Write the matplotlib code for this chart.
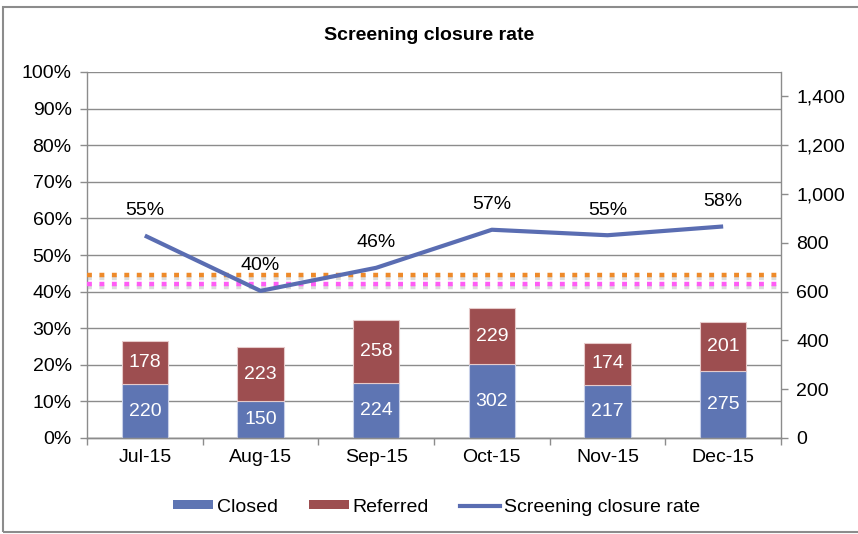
import matplotlib
matplotlib.use("Agg")
import matplotlib.pyplot as plt
import matplotlib.patheffects as pe
from matplotlib.lines import Line2D
from matplotlib.patches import Patch, Rectangle
from matplotlib.ticker import FuncFormatter, MultipleLocator, FixedLocator

plt.rcParams["font.family"] = ["Liberation Sans", "DejaVu Sans"]

months = ["Jul-15", "Aug-15", "Sep-15", "Oct-15", "Nov-15", "Dec-15"]
closed = [220, 150, 224, 302, 217, 275]
referred = [178, 223, 258, 229, 174, 201]
closure_rate = [0.553, 0.402, 0.465, 0.569, 0.554, 0.578]
target_orange = 0.445
target_pink = 0.42

c_closed = "#5E75B3"
c_referred = "#9D4E50"
c_line = "#5A6DB2"
c_grid = "#8C8C8C"

fig = plt.figure(figsize=(8.58, 5.34), dpi=100)
rect = [87 / 858, 1 - 438 / 534, (781 - 87) / 858, (438 - 72) / 534]
ax = fig.add_axes(rect)
ax2 = ax.twinx()

# Left axis: percentages, gridlines every 10%
ax.set_ylim(0, 1.0)
ax.set_xlim(-0.5, len(months) - 0.5)
ax.yaxis.set_major_locator(MultipleLocator(0.1))
ax.yaxis.set_major_formatter(FuncFormatter(lambda v, p: f"{v * 100:.0f}%"))
ax.grid(axis="y", color=c_grid, linewidth=1.0)
ax.set_axisbelow(True)

# Right axis: counts for the stacked bars
ax2.set_ylim(0, 1500)
ax2.yaxis.set_major_locator(FixedLocator(range(0, 1401, 200)))
ax2.yaxis.set_major_formatter(FuncFormatter(lambda v, p: f"{int(v):,}"))

for a in (ax, ax2):
    for s in a.spines.values():
        s.set_color(c_grid)
        s.set_linewidth(1.0)
    a.spines["top"].set_visible(False)
    a.tick_params(axis="y", length=5, width=1, color=c_grid, labelsize=14, pad=6)

ax.spines["right"].set_visible(False)
ax2.spines["left"].set_visible(False)

# Category ticks sit between the months
ax.set_xticks(range(len(months)))
ax.set_xticklabels(months)
ax.tick_params(axis="x", length=0, labelsize=14, pad=8)
ax.set_xticks([i - 0.5 for i in range(len(months) + 1)], minor=True)
ax.tick_params(axis="x", which="minor", length=5, width=1, color=c_grid)

x = list(range(len(months)))
w = 0.4
ax2.bar(x, closed, width=w, color=c_closed, edgecolor="#C8D0E8", linewidth=0.8, zorder=2)
ax2.bar(x, referred, width=w, bottom=closed, color=c_referred, edgecolor="#E6CACA",
        linewidth=0.8, zorder=2)

for i in x:
    ax2.text(i, closed[i] / 2, f"{closed[i]}", ha="center", va="center",
             color="white", fontsize=14, zorder=5)
    ax2.text(i, closed[i] + referred[i] / 2, f"{referred[i]}", ha="center", va="center",
             color="white", fontsize=14, zorder=5)

# Overlay axes (percent scale) for the reference lines and the rate line
ax3 = fig.add_axes(rect, sharex=ax)
ax3.set_ylim(0, 1.0)
ax3.axis("off")
ax3.patch.set_visible(False)

shadow = [pe.SimpleLineShadow(offset=(0, -2), shadow_color="#999999", alpha=0.35), pe.Normal()]
ax3.plot([-0.5, 5.5], [target_orange] * 2, color="#EE8A2A", linewidth=3.2,
         linestyle=(0, (1.1, 1.7)), dash_capstyle="butt", path_effects=shadow, zorder=3)
ax3.plot([-0.5, 5.47], [target_pink] * 2, color="#FF5CF5", linewidth=3.2,
         linestyle=(0, (1.1, 1.7)), dash_capstyle="butt", path_effects=shadow, zorder=3)

ax3.plot(x, closure_rate, color=c_line, linewidth=3, solid_capstyle="butt", zorder=4)
for i in x:
    ax3.annotate(f"{closure_rate[i] * 100:.0f}%", (i, closure_rate[i]), xytext=(0, 18),
                 textcoords="offset points", ha="center", va="center", fontsize=14, zorder=6)

# Title
fig.text(0.5, 1 - 35 / 534, "Screening closure rate", ha="center", va="center",
         fontsize=14, fontweight="bold")

# Legend along the bottom
handles = [Patch(facecolor=c_closed), Patch(facecolor=c_referred),
           Line2D([0], [0], color=c_line, linewidth=3)]
fig.legend(handles, ["Closed", "Referred", "Screening closure rate"],
           loc="center", bbox_to_anchor=(0.509, 1 - 507 / 534), ncol=3, frameon=False,
           fontsize=14, handlelength=2.05, handleheight=0.4, handletextpad=0.2,
           columnspacing=1.6)

# Outer chart border
fig.patches.append(Rectangle((3 / 858, 1 - 532 / 534), 1.0, (532 - 7) / 534,
                             transform=fig.transFigure, fill=False, edgecolor="#8C8C8C",
                             linewidth=1.5))

fig.savefig("out.png", dpi=100)
